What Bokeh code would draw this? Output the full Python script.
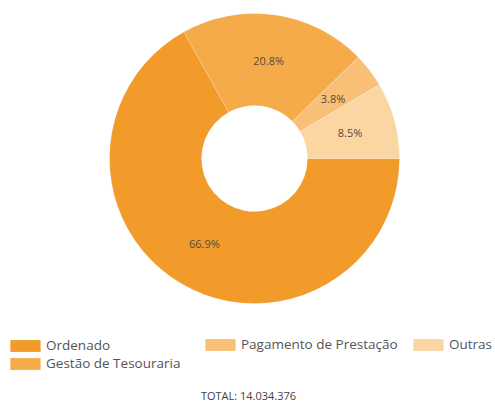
import numpy as np
from bokeh.plotting import figure
from bokeh.models import ColumnDataSource, Legend, LegendItem, Label, Range1d
from bokeh.core.properties import value
from bokeh.embed import file_html
from bokeh.resources import INLINE

# ---- data ----
categories = ["Ordenado", "Gestão de Tesouraria", "Pagamento de Prestação", "Outras"]
percents = [66.9, 20.8, 3.8, 8.5]
colors = ["#F29A2A", "#F5AB4A", "#F8C076", "#FBD6A2"]
total_text = "TOTAL: 14.034.376"
legend_columns = [["Ordenado", "Gestão de Tesouraria"], ["Pagamento de Prestação"], ["Outras"]]

# ---- geometry (frame pixel units) ----
W, H = 495, 407
cx, cy = 254, 249
r_in, r_out = 53, 145

pct = np.array(percents, dtype=float)
cum = np.cumsum(pct)
prev = cum - pct
start = -2 * np.pi * cum / 100.0
end = -2 * np.pi * prev / 100.0
mid = (start + end) / 2.0
rm = (r_in + r_out) / 2.0

src = ColumnDataSource(dict(
    cat=categories, pct=pct, color=colors, start=start, end=end,
    lx=cx + rm * np.cos(mid), ly=cy + rm * np.sin(mid),
    lab=[f"{v:.1f}%" for v in pct],
))

p = figure(width=W, height=H, output_backend="svg", toolbar_location=None,
           x_range=Range1d(0, W), y_range=Range1d(0, H),
           min_border=0, outline_line_color=None)
p.axis.visible = False
p.grid.visible = False
p.background_fill_color = "white"
p.border_fill_color = "white"

r = p.annular_wedge(x=cx, y=cy, inner_radius=r_in, outer_radius=r_out,
                    start_angle="start", end_angle="end", fill_color="color",
                    line_color="white", line_width=0.6, line_alpha=0.3, source=src)

p.text(x="lx", y="ly", text="lab", source=src, text_align="center",
       text_baseline="middle", text_font=value("Open Sans"),
       text_font_size="11px", text_color="#5a4a3a")

col_locs = [(6, 35), (201, 54), (409, 54)]
for names, loc in zip(legend_columns, col_locs):
    items = [LegendItem(label=c, renderers=[r], index=categories.index(c)) for c in names]
    lg = Legend(items=items, orientation="vertical", location=loc,
                padding=0, margin=0, spacing=0,
                glyph_width=38, glyph_height=15, label_standoff=2,
                label_text_font="Open Sans", label_text_font_size="13.5px",
                label_text_color="#555555", border_line_color=None,
                background_fill_alpha=0)
    p.add_layout(lg, "center")

p.add_layout(Label(x=248, y=12, text=total_text, text_align="center",
                   text_baseline="middle", text_font="Open Sans",
                   text_font_size="11px", text_color="#444444"))

open("out.html", "w").write(file_html(p, INLINE))
